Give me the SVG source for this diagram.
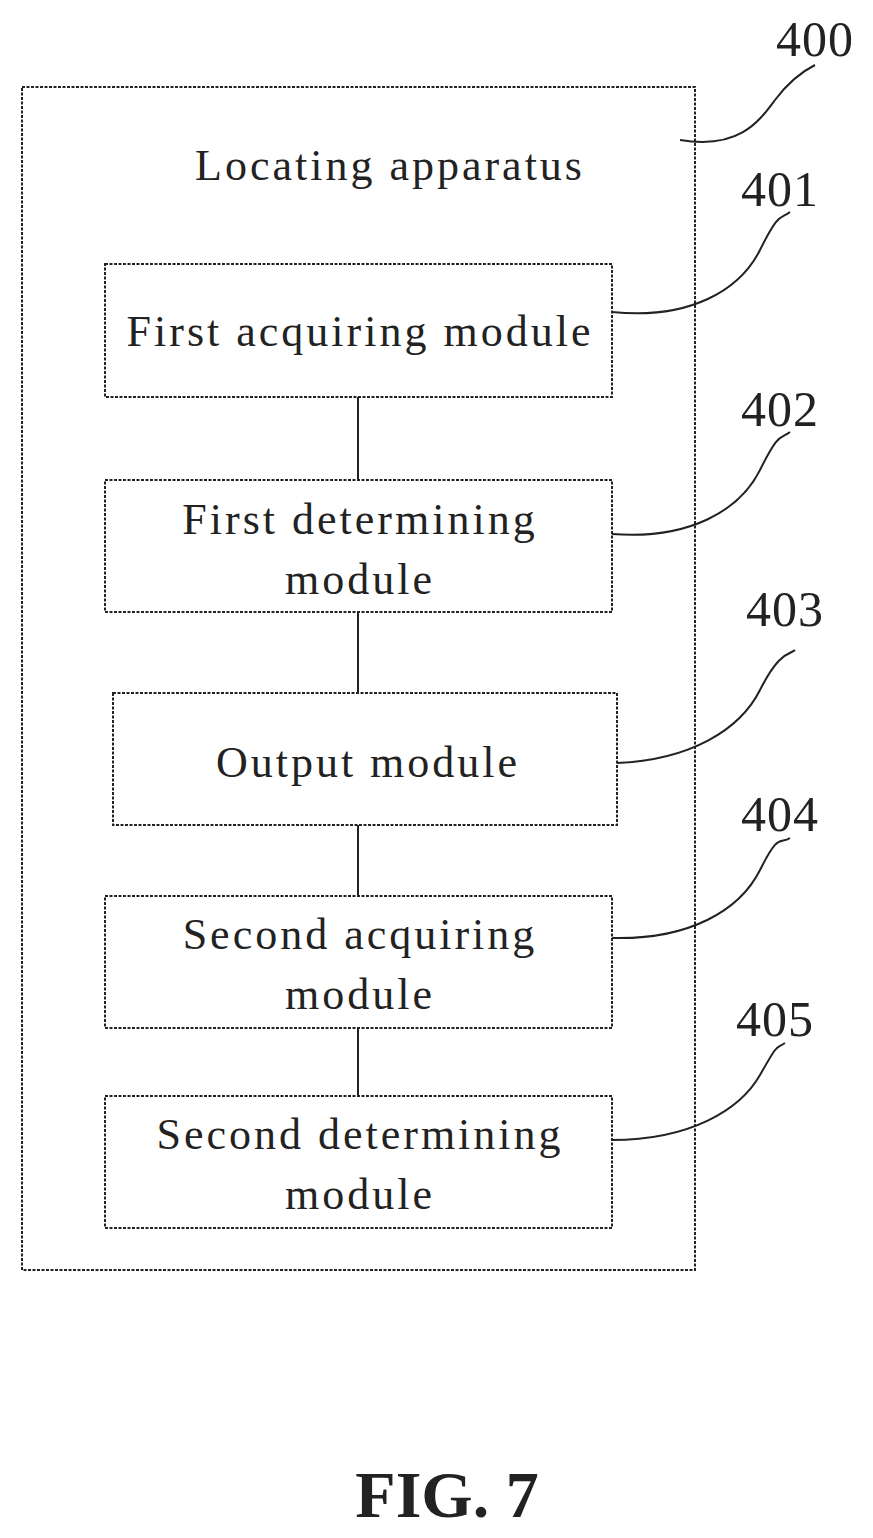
<svg xmlns="http://www.w3.org/2000/svg" width="873" height="1538" viewBox="0 0 873 1538">
<style>
.b{fill:#fff;stroke:#222;stroke-width:2;stroke-dasharray:3 1.5}
.t{font-family:"Liberation Serif",serif;font-size:44px;letter-spacing:3px;fill:#222;text-anchor:middle}
.n{font-family:"Liberation Serif",serif;font-size:50px;letter-spacing:1px;fill:#222;text-anchor:middle}
.l{fill:none;stroke:#222;stroke-width:2}
</style>
<rect width="873" height="1538" fill="#fff"/>
<g id="n400"><rect class="b" x="22" y="87" width="673" height="1183"/><text class="t" x="390" y="180">Locating apparatus</text><text class="n" x="815" y="56">400</text></g>
<g id="n401"><rect class="b" x="105" y="264" width="507" height="133"/><text class="t" x="360" y="346">First acquiring module</text><text class="n" x="780" y="206">401</text></g>
<g id="n402"><rect class="b" x="105" y="480" width="507" height="132"/><text class="t" x="360" y="534">First determining</text><text class="t" x="360" y="594">module</text><text class="n" x="780" y="426">402</text></g>
<g id="n403"><rect class="b" x="113" y="693" width="504" height="132"/><text class="t" x="368" y="777">Output module</text><text class="n" x="785" y="626">403</text></g>
<g id="n404"><rect class="b" x="105" y="896" width="507" height="132"/><text class="t" x="360" y="949">Second acquiring</text><text class="t" x="360" y="1009">module</text><text class="n" x="780" y="831">404</text></g>
<g id="n405"><rect class="b" x="105" y="1096" width="507" height="132"/><text class="t" x="360" y="1149">Second determining</text><text class="t" x="360" y="1209">module</text><text class="n" x="775" y="1036">405</text></g>
<g id="connectors">
<path class="l" d="M358 397V480M358 612V693M358 825V896M358 1028V1096"/>
<path class="l" d="M680 140C740 150 760 120 775 100S805 70 815 65"/>
<path class="l" d="M612 312C690 320 740 290 760 250S780 220 790 212"/>
<path class="l" d="M612 534C690 540 740 510 760 470S780 440 790 432"/>
<path class="l" d="M617 763C690 760 740 730 760 690S790 655 795 650"/>
<path class="l" d="M612 938C690 940 740 910 760 870S780 845 790 838"/>
<path class="l" d="M612 1140C690 1140 740 1110 760 1075S775 1050 785 1043"/>
</g>
<text x="447" y="1517" style="font-family:'Liberation Serif',serif;font-size:66px;font-weight:bold;fill:#222;text-anchor:middle">FIG. 7</text>
</svg>
